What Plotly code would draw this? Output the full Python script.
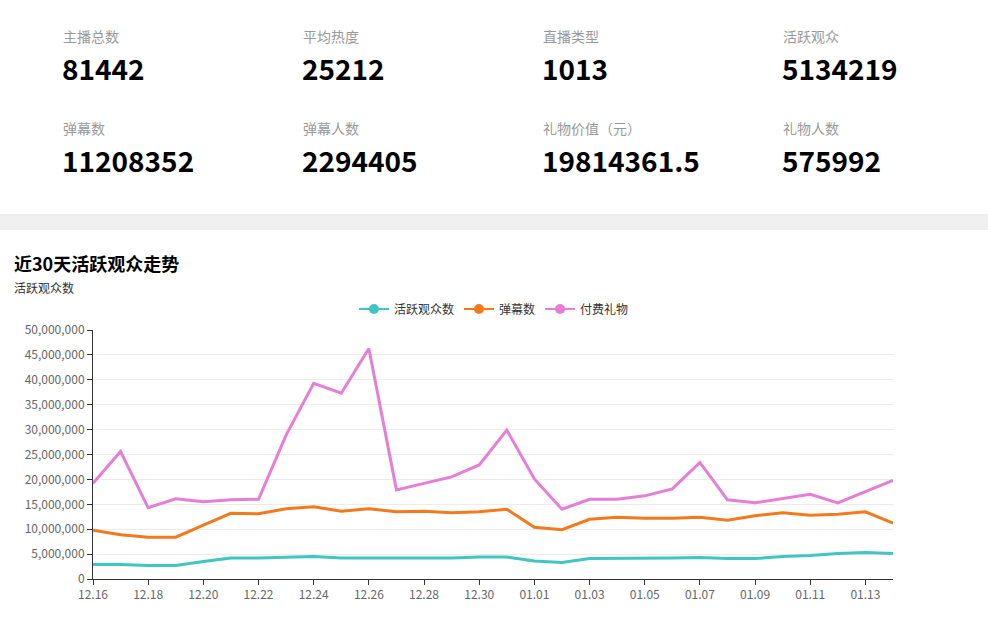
import plotly.graph_objects as go

W, H = 988, 617

# ---- data ----
dates = ["12.16", "12.17", "12.18", "12.19", "12.20", "12.21", "12.22", "12.23", "12.24", "12.25",
         "12.26", "12.27", "12.28", "12.29", "12.30", "12.31", "01.01", "01.02", "01.03", "01.04",
         "01.05", "01.06", "01.07", "01.08", "01.09", "01.10", "01.11", "01.12", "01.13", "01.14"]

active_viewers = [2900000, 2900000, 2700000, 2700000, 3500000, 4200000, 4200000, 4400000, 4500000, 4200000,
                  4200000, 4300000, 4300000, 4200000, 4400000, 4400000, 3600000, 3300000, 4100000, 4100000,
                  4100000, 4200000, 4300000, 4100000, 4100000, 4500000, 4700000, 5100000, 5300000, 5134219]

danmaku = [9800000, 8900000, 8400000, 8400000, 10800000, 13200000, 13100000, 14100000, 14500000, 13600000,
           14100000, 13500000, 13600000, 13300000, 13500000, 14000000, 10400000, 9900000, 12000000, 12400000,
           12200000, 12200000, 12400000, 11800000, 12700000, 13300000, 12800000, 13000000, 13500000, 11208352]

gifts = [19200000, 25600000, 14300000, 16100000, 15500000, 15900000, 16000000, 28900000, 39300000, 37300000,
         46300000, 17900000, 19200000, 20500000, 22900000, 29900000, 20100000, 14000000, 16000000, 16000000,
         16700000, 18100000, 23400000, 15900000, 15300000, 16200000, 17000000, 15300000, 17500000, 19814361.5]

series_names = ["活跃观众数", "弹幕数", "付费礼物"]
series_colors = ["#3fc6c3", "#f27a1d", "#e67ed8"]

kpi_labels = ["主播总数", "平均热度", "直播类型", "活跃观众", "弹幕数", "弹幕人数", "礼物价值（元）", "礼物人数"]
kpi_values = ["81442", "25212", "1013", "5134219", "11208352", "2294405", "19814361.5", "575992"]

y_ticks = list(range(0, 50000001, 5000000))

FONT = "Noto Sans CJK SC, Noto Sans, sans-serif"

fig = go.Figure()
for name, vals, col in zip(series_names, [active_viewers, danmaku, gifts], series_colors):
    fig.add_trace(go.Scatter(
        x=dates, y=vals, name=name, mode="lines", showlegend=False,
        line=dict(color=col, width=3), hoverinfo="x+y+name",
    ))
for name, col in zip(series_names, series_colors):
    fig.add_trace(go.Scatter(
        x=[None], y=[None], name=name, mode="lines+markers",
        line=dict(color=col, width=2),
        marker=dict(size=10, color=col),
    ))


def py(px):
    return 1 - px / H


def pxx(px):
    return px / W


annotations = []
cols_x = [61, 301, 541, 781]
for i, (lab, val) in enumerate(zip(kpi_labels, kpi_values)):
    row = i // 4
    cx = cols_x[i % 4]
    ly = 36 if row == 0 else 128
    vy = 68 if row == 0 else 160.5
    annotations.append(dict(x=pxx(cx), y=py(ly), xref="paper", yref="paper", text=lab,
                            showarrow=False, xanchor="left", yanchor="middle",
                            font=dict(size=14, color="#999999", family=FONT)))
    annotations.append(dict(x=pxx(cx - 1), y=py(vy), xref="paper", yref="paper", text="<b>" + val + "</b>",
                            showarrow=False, xanchor="left", yanchor="middle",
                            font=dict(size=28, color="#000000", family=FONT)))

annotations.append(dict(x=pxx(12), y=py(263), xref="paper", yref="paper", text="<b>近30天活跃观众走势</b>",
                        showarrow=False, xanchor="left", yanchor="middle",
                        font=dict(size=18, color="#000000", family=FONT)))
annotations.append(dict(x=pxx(12), y=py(287.5), xref="paper", yref="paper", text="活跃观众数",
                        showarrow=False, xanchor="left", yanchor="middle",
                        font=dict(size=12, color="#333333", family=FONT)))

fig.update_layout(
    width=W, height=H,
    margin=dict(l=0, r=0, t=0, b=0, pad=0, autoexpand=False),
    paper_bgcolor="white", plot_bgcolor="white",
    font=dict(family=FONT, size=12, color="#666666"),
    annotations=annotations,
    shapes=[dict(type="rect", xref="paper", yref="paper", x0=0, x1=1, y0=py(230), y1=py(214),
                 fillcolor="#f0f0f0", line=dict(width=0), layer="below")],
    showlegend=True,
    legend=dict(orientation="h", x=0.5, xanchor="center", y=py(309), yanchor="middle",
                font=dict(size=12, color="#333333", family=FONT), itemwidth=30,
                bgcolor="rgba(0,0,0,0)", tracegroupgap=0),
    xaxis=dict(
        domain=[pxx(93), pxx(893)],
        type="category", range=[0, len(dates) - 1],
        tickmode="array", tickvals=dates[::2], ticktext=dates[::2],
        ticks="outside", ticklen=5, tickcolor="#333333",
        showline=True, linecolor="#333333", linewidth=1,
        showgrid=False, zeroline=False, automargin=False,
        tickfont=dict(size=12, color="#666666", family=FONT),
    ),
    yaxis=dict(
        domain=[py(579), py(330)],
        range=[0, 50000000],
        tickmode="array", tickvals=y_ticks, tickformat=",d",
        ticks="outside", ticklen=5, tickcolor="#333333",
        showline=True, linecolor="#333333", linewidth=1,
        showgrid=True, gridcolor="#ececec", zeroline=False, automargin=False,
        tickfont=dict(size=12, color="#666666", family=FONT),
    ),
)

fig.write_html(
    "out.html",
    config={"displayModeBar": False},
    post_script="document.body.style.margin='0';document.body.style.overflow='hidden';",
)
